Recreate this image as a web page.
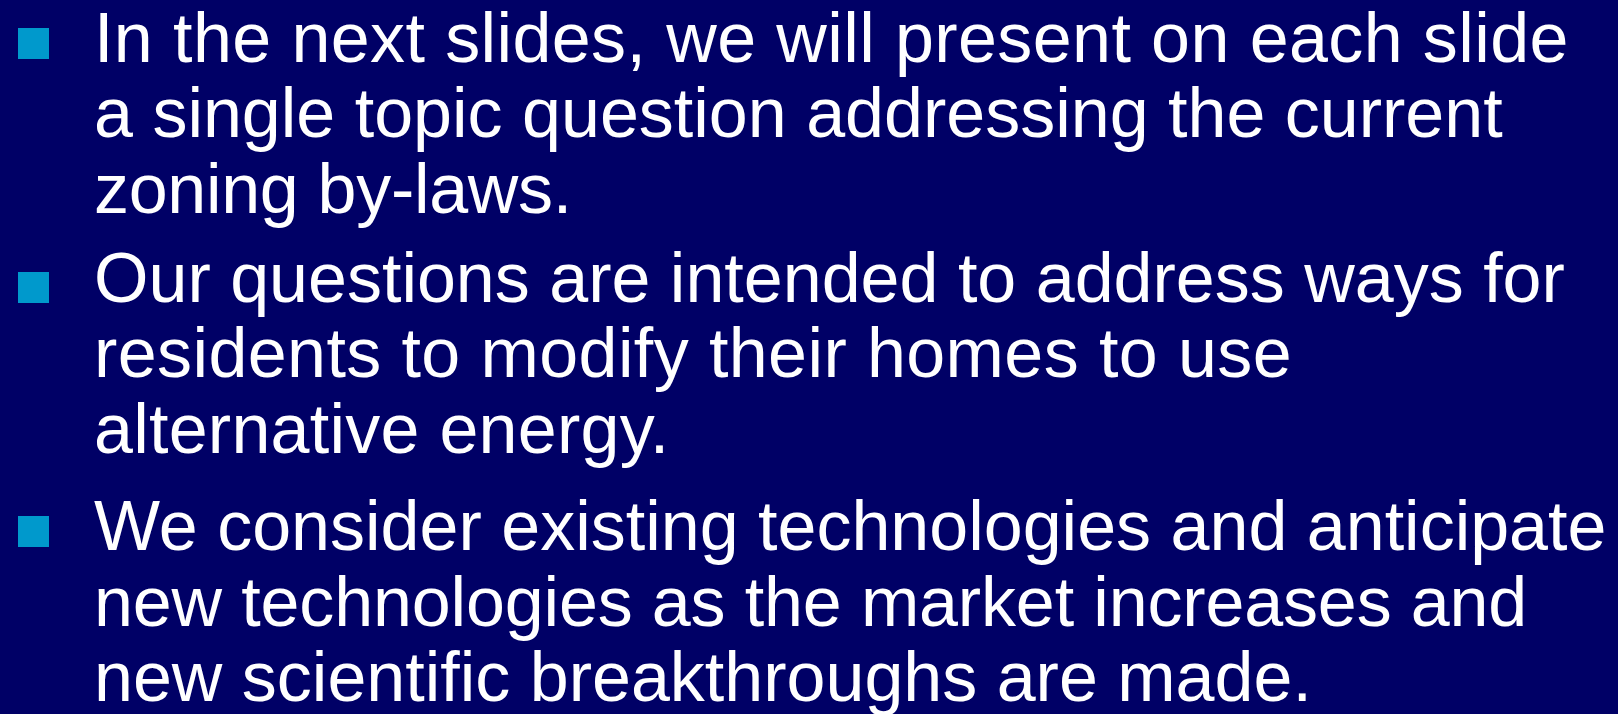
<!doctype html>
<html lang="en">
<head>
  <meta charset="utf-8">
  <title>Zoning by-laws</title>
  <script src="https://cdn.jsdelivr.net/npm/chart.js"></script>
  <style>
    html, body {
      margin: 0;
      padding: 0;
      width: 1618px;
      height: 714px;
      overflow: hidden;
      background: #000066;
    }
    .para {
      position: absolute;
      left: 94px;
      font-family: "Liberation Sans", Arial, sans-serif;
      font-size: 70px;
      line-height: 75.5px;
      color: #ffffff;
      white-space: nowrap;
    }
    .para span { display: block; }
    .bullet {
      position: absolute;
      left: 18px;
      width: 31px;
      height: 31px;
      background: #0099cc;
    }
  </style>
</head>
<body>

<div class="bullet" style="top: 28px;"></div>
<div class="para" style="top: 0.5px;">
  <span style="letter-spacing: 0.4px;">In the next slides, we will present on each slide</span>
  <span>a single topic question addressing the current</span>
  <span style="letter-spacing: -0.3px;">zoning by-laws.</span>
</div>

<div class="bullet" style="top: 272px;"></div>
<div class="para" style="top: 240.5px;">
  <span>Our questions are intended to address ways for</span>
  <span style="letter-spacing: 0.4px;">residents to modify their homes to use</span>
  <span style="letter-spacing: 0.25px;">alternative energy.</span>
</div>

<div class="bullet" style="top: 516px;"></div>
<div class="para" style="top: 489px;">
  <span>We consider existing technologies and anticipate</span>
  <span style="letter-spacing: -0.15px;">new technologies as the market increases and</span>
  <span>new scientific breakthroughs are made.</span>
</div>

</body>
</html>
